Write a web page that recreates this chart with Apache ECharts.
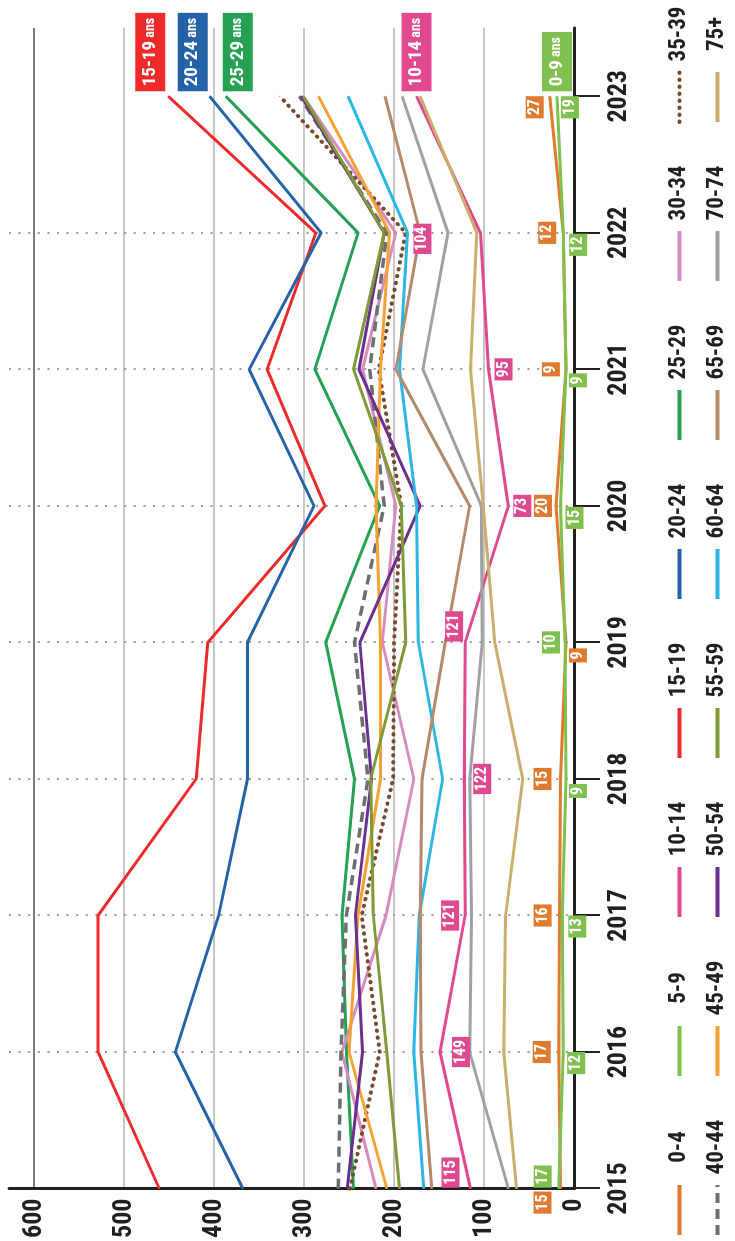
<!DOCTYPE html>
<html>
<head>
<meta charset="utf-8">
<script src="https://cdn.jsdelivr.net/npm/echarts@6/dist/echarts.min.js"></script>
<style>
  html, body { margin: 0; padding: 0; background: #fff; overflow: hidden; }
  #wrap { position: absolute; left: 0; top: 0; width: 735px; height: 1241px; overflow: hidden; }
  #chart { position: absolute; left: 0; top: 0; width: 1241px; height: 735px;
           transform-origin: 0 0; transform: translateY(1241px) rotate(-90deg); }
</style>
</head>
<body>
<div id="wrap"><div id="chart"></div></div>
<script>
// ---------- data ----------
const years = [2015, 2016, 2017, 2018, 2019, 2020, 2021, 2022, 2023];
const valueTicks = [0, 100, 200, 300, 400, 500, 600];
const groupNames = ['0-4','5-9','10-14','15-19','20-24','25-29','30-34','35-39',
                    '40-44','45-49','50-54','55-59','60-64','65-69','70-74','75+'];

const v0_4   = [15, 17, 16, 15, 9, 20, 9, 12, 27];
const v5_9   = [17, 12, 13, 9, 10, 15, 9, 12, 19];
const v10_14 = [115, 149, 121, 122, 121, 73, 95, 104, 175];
const v15_19 = [461, 529, 529, 420, 407, 277, 341, 287, 451];
const v20_24 = [368, 443, 395, 363, 363, 289, 361, 281, 405];
const v25_29 = [245, 253, 258, 244, 276, 216, 288, 240, 387];
const v30_34 = [220, 258, 209, 178, 213, 198, 235, 198, 301];
const v35_39 = [249, 216, 236, 201, 200, 192, 217, 187, 327];
const v40_44 = [262, 259, 253, 229, 244, 211, 227, 208, 305];
const v45_49 = [208, 250, 240, 215, 215, 220, 215, 205, 284];
const v50_54 = [252, 235, 243, 225, 238, 171, 239, 211, 303];
const v55_59 = [194, 208, 223, 226, 187, 192, 245, 211, 301];
const v60_64 = [167, 178, 172, 146, 173, 175, 194, 185, 251];
const v65_69 = [158, 170, 171, 169, 143, 116, 198, 171, 210];
const v70_74 = [73, 116, 114, 116, 102, 103, 168, 140, 191];
const v75p   = [64, 78, 76, 57, 88, 101, 115, 108, 171];

const endTexts = { '15-19': '15-19', '20-24': '20-24', '25-29': '25-29', '10-14': '10-14', '5-9': '0-9' };

// ---------- styles ----------
const FONT = "'Roboto Condensed', 'Open Sans Condensed', 'Liberation Sans Narrow', 'DejaVu Sans Condensed', sans-serif";
const INK = '#231f20';
const colors = {
  '0-4': '#e07a2e', '5-9': '#80c04e', '10-14': '#e0488f', '15-19': '#ee2b2a',
  '20-24': '#2563a8', '25-29': '#26a052', '30-34': '#d68cc0', '35-39': '#7a4a2e',
  '40-44': '#6e6d70', '45-49': '#f6a233', '50-54': '#6a2f8f', '55-59': '#7f9a36',
  '60-64': '#2cb6e6', '65-69': '#b38a6c', '70-74': '#a0a0a2', '75+': '#cbae6c'
};
const lineTypes = { '35-39': [0.5, 6.5], '40-44': [10, 6] };
const lineWidths = { '35-39': 4, '40-44': 3.5 };

// label offsets [dx, dy] in px (layout only)
const labelOffsets = {
  '0-4':   [[-14,-18],[0,-17],[0,-17],[0,-18],[-13,12],[0,-13],[0,-15],[0,-16],[-11,-15]],
  '5-9':   [[12,-16],[-11,13],[-11,15],[-12,12],[0,-14],[-12,14],[-11,12],[-12,15],[-11,13]],
  '10-14': [[16,-20],[0,21],[0,-15],[0,18],[16,-11],[0,14],[0,15],[-6,-58],null]
};
const endOffsets = { '15-19': [0,-18], '20-24': [0,-17], '25-29': [0,12], '10-14': [0,0], '5-9': [0,0] };

const allValues = [v0_4, v5_9, v10_14, v15_19, v20_24, v25_29, v30_34, v35_39,
                   v40_44, v45_49, v50_54, v55_59, v60_64, v65_69, v70_74, v75p];

function makeSeries(name, vals) {
  const col = colors[name];
  const offs = labelOffsets[name];
  const s = {
    type: 'line', name: name,
    symbol: 'circle', symbolSize: 1, showSymbol: true,
    lineStyle: { color: col, width: lineWidths[name] || 3, type: lineTypes[name] || 'solid',
                 cap: name === '35-39' ? 'round' : 'butt' },
    itemStyle: { color: col },
    emphasis: { disabled: true },
    data: years.map((y, i) => {
      const d = { value: [y, vals[i]] };
      if (offs) {
        if (offs[i]) d.label = { show: true, offset: offs[i] };
        else d.label = { show: false };
      }
      return d;
    })
  };
  if (offs) {
    s.label = {
      show: true, position: 'inside',
      formatter: p => String(p.value[1]),
      color: '#fff', backgroundColor: col,
      fontFamily: FONT, fontWeight: 'bold', fontSize: 16, lineHeight: 15,
      padding: [2, 3, 1, 3]
    };
  }
  if (endTexts[name]) {
    s.endLabel = {
      show: true, distance: 5, offset: endOffsets[name],
      formatter: () => '{n|' + endTexts[name] + '} {a|ans}',
      backgroundColor: col, padding: [4, 5, 4, 5],
      rich: {
        n: { color: '#fff', fontFamily: FONT, fontWeight: 'bold', fontSize: 19, lineHeight: 22 },
        a: { color: '#fff', fontFamily: FONT, fontWeight: 'bold', fontSize: 14, lineHeight: 22 }
      }
    };
  }
  return s;
}

const series = groupNames.map((n, i) => makeSeries(n, allValues[i]));

const legends = [];
for (let c = 0; c < 8; c++) {
  legends.push({
    orient: 'vertical', left: 4 + c * 159, top: 668, padding: 0,
    itemWidth: 50, itemHeight: 14, itemGap: 15,
    selectedMode: false,
    itemStyle: { opacity: 0 },
    lineStyle: { width: 4 },
    data: [groupNames[c], groupNames[c + 8]],
    formatter: name => '{t|' + name + '}',
    textStyle: { rich: { t: { width: 66, align: 'center', height: 22, lineHeight: 22, fontSize: 23,
      fontWeight: 'bold', fontFamily: FONT, color: INK } } }
  });
}

const chart = echarts.init(document.getElementById('chart'), null, { renderer: 'canvas' });
chart.setOption({
  animation: false,
  backgroundColor: '#fff',
  grid: { left: 46, right: 28, top: 9, bottom: 161 },
  legend: legends,
  xAxis: {
    type: 'value', min: years[0], max: 2023.5, interval: 1,
    axisLine: { show: true, onZero: false, lineStyle: { color: INK, width: 3 } },
    axisTick: { show: true, length: 26, customValues: years, lineStyle: { color: INK, width: 2 } },
    axisLabel: { show: true, margin: 32, customValues: years,
      formatter: v => String(v), color: INK, fontFamily: FONT, fontWeight: 'bold', fontSize: 26 },
    splitLine: { show: true, showMinLine: false, showMaxLine: false,
      lineStyle: { color: '#9a9a9a', width: 2, type: [2, 7.6] } }
  },
  yAxis: {
    type: 'value', min: 0, max: 628, interval: 100,
    axisLine: { show: true, lineStyle: { color: INK, width: 3 } },
    axisTick: { show: false },
    axisLabel: { show: true, margin: 10, customValues: valueTicks,
      color: INK, fontFamily: FONT, fontWeight: 'bold', fontSize: 26 },
    splitLine: { show: true, showMaxLine: false,
      lineStyle: { color: ['#b5b5b5','#b5b5b5','#b5b5b5','#b5b5b5','#b5b5b5','#b5b5b5','#505050'], width: 1.5 } }
  },
  series: series
});
</script>
</body>
</html>
